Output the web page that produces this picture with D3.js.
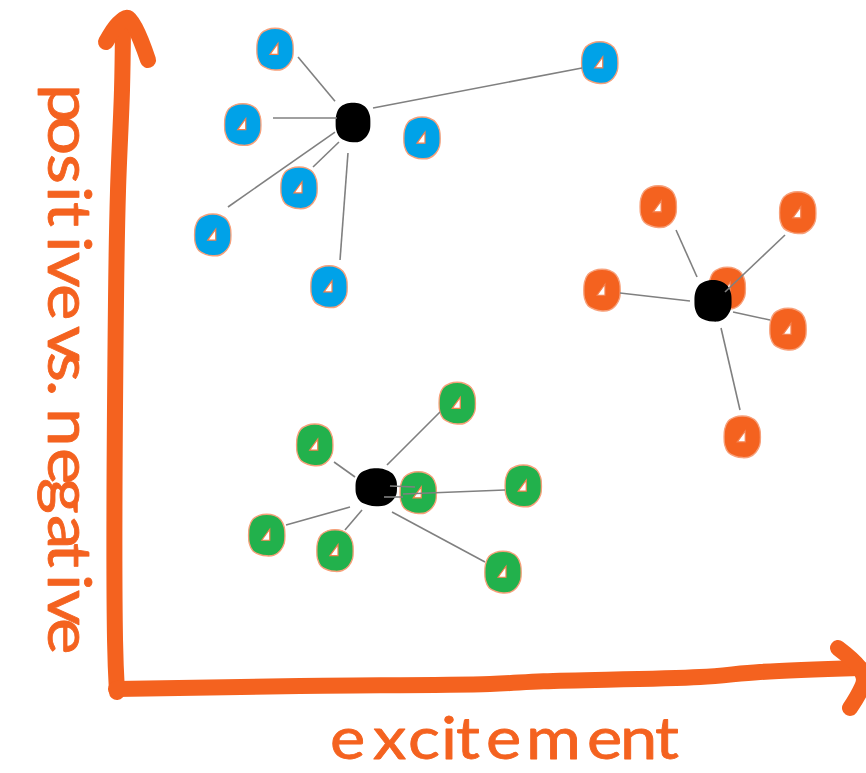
<!DOCTYPE html>
<html>
<head>
<meta charset="utf-8">
<script src="https://cdn.jsdelivr.net/npm/d3@7"></script>
<style>
  html, body { margin: 0; padding: 0; background: #fff; }
  svg { display: block; }
</style>
</head>
<body>
<svg id="chart"></svg>
<script>
// values, x = excitement, y = positive vs. negative (0-100)
const blueCenter = [31.6, 84.0];
const bluePoints = [[21.2, 94.9], [64.5, 92.9], [16.9, 83.7], [40.8, 81.7], [24.4, 74.3], [12.9, 67.3], [28.4, 59.6]];
const blueLinks = [
  [24.27, 93.76, 29.2, 87.2], [20.93, 84.7, 29.47, 84.7], [34.27, 86.18, 62.13, 92.12],
  [29.2, 82.6, 14.93, 71.47], [29.73, 81.13, 26.27, 77.41], [30.93, 79.5, 29.87, 63.6]
];

const orangeCenter = [79.6, 57.5];
const orangePoints = [[72.3, 71.5], [90.9, 70.6], [64.8, 59.1], [81.5, 59.4], [89.6, 53.3], [83.5, 37.3]];
const orangeLinks = [
  [74.67, 68.05, 77.47, 61.07], [67.2, 58.69, 76.53, 57.5], [89.2, 67.31, 81.2, 58.84],
  [82.27, 55.87, 87.2, 54.68], [80.67, 53.49, 83.2, 41.31]
];

const greenCenter = [34.7, 29.8];
const greenPoints = [[45.5, 42.3], [26.5, 36.1], [54.3, 30.0], [40.3, 29.0], [20.1, 22.7], [29.2, 20.4], [51.6, 17.2]];
const greenLinks = [
  [43.2, 41.01, 36.13, 33.14], [29.07, 33.58, 31.87, 31.35], [51.87, 29.42, 38.27, 28.83],
  [39.87, 29.87, 36.53, 30.01], [38.27, 28.38, 35.73, 28.38], [22.67, 24.22, 31.2, 26.89],
  [32.8, 26.45, 30.53, 23.48], [36.8, 26.15, 49.2, 18.72]
];

const xLabel = 'excitement';
const yLabel = 'positive vs. negative';

// where each handwritten letter starts along its axis, in pixels
const xLabelStarts = [330, 373, 408, 441, 456, 486, 526, 587, 620, 655];
const yLabelStarts = [84, 116, 154, 186, 202, 236, 252, 284, 322, 326, 352, 380, 398, 408, 448, 478, 515, 543, 574, 590, 618];

const width = 866;
const height = 773;
const orange = '#f4621f';
const letterStretch = 1.15;

const x = d3.scaleLinear().domain([0, 100]).range([116, 866]);
const y = d3.scaleLinear().domain([0, 100]).range([688, 15]);

const svg = d3.select('#chart').attr('width', width).attr('height', height);

// axes are wobbly strokes, drawn by hand in the original
const line = d3.line().x(d => x(d[0])).y(d => y(d[1])).curve(d3.curveCatmullRom);
const yAxisPath = [[0.13, -0.6], [-0.13, 7.13], [0, 57.65], [0.27, 74], [0.8, 88.86], [0.93, 97.77]];
const yArrow = [[-1.33, 95.99], [0.27, 98.66], [1.6, 99.55], [4.27, 93.31]];
const xAxisPath = [[0, -0.15], [24.53, 0.3], [49.87, 0.6], [57, 1.0], [77.87, 1.63], [85.87, 2.38], [99.2, 2.97]];
const xArrow = [[96.27, 5.94], [98.93, 3.27], [99.73, 1.19], [97.87, -2.97]];
[yAxisPath, yArrow, xAxisPath, xArrow].forEach(p => {
  svg.append('path')
    .attr('d', line(p))
    .attr('fill', 'none')
    .attr('stroke', orange)
    .attr('stroke-width', 16)
    .attr('stroke-linecap', 'round')
    .attr('stroke-linejoin', 'round');
});

// outline of a blob, radius factor per step round the circle
const blobShape = [0.98, 1.0, 1.02, 0.98, 0.94, 0.98, 1.0, 1.0, 0.96, 0.97, 1.02, 0.98, 0.94, 0.98, 1.03, 1.0];
const blob = d3.lineRadial()
  .angle((d, i) => i / blobShape.length * 2 * Math.PI)
  .radius(d => d)
  .curve(d3.curveCatmullRomClosed);

function drawCluster(center, points, links, fill, centerScale) {
  const g = svg.append('g');

  points.forEach(p => {
    const node = g.append('g').attr('transform', `translate(${x(p[0])},${y(p[1])})`);
    node.append('path')
      .attr('d', blob(blobShape.map(r => r * 21.5)))
      .attr('transform', 'scale(0.9,1)')
      .attr('fill', fill)
      .attr('stroke', '#f7a07a')
      .attr('stroke-width', 1.5);
    node.append('path')
      .attr('d', 'M-5,5L3,-6L3,5Z')
      .attr('fill', '#fff')
      .attr('stroke', '#f4804e')
      .attr('stroke-width', 1.2);
  });

  g.append('path')
    .attr('transform', `translate(${x(center[0])},${y(center[1])}) scale(${centerScale[0]},${centerScale[1]})`)
    .attr('d', blob(blobShape.map(r => r * 21)))
    .attr('fill', '#000');

  // lines were drawn by hand, they stop short of the dots and some run over them
  g.selectAll('line')
    .data(links)
    .enter()
    .append('line')
    .attr('x1', d => x(d[0]))
    .attr('y1', d => y(d[1]))
    .attr('x2', d => x(d[2]))
    .attr('y2', d => y(d[3]))
    .attr('stroke', '#808080')
    .attr('stroke-width', 1.6);
}

drawCluster(blueCenter, bluePoints, blueLinks, '#00a2e8', [0.88, 0.97]);
drawCluster(orangeCenter, orangePoints, orangeLinks, '#f4621f', [0.94, 1.02]);
drawCluster(greenCenter, greenPoints, greenLinks, '#22b14c', [1.05, 0.93]);

svg.append('text')
  .attr('transform', `translate(0,759) scale(${letterStretch},1)`)
  .attr('x', xLabelStarts.map(v => v / letterStretch).join(' '))
  .attr('y', 0)
  .attr('font-family', 'Lato, sans-serif')
  .attr('font-size', 58)
  .attr('fill', orange)
  .attr('stroke', orange)
  .attr('stroke-width', 0.8)
  .attr('stroke-linejoin', 'round')
  .text(xLabel);

svg.append('text')
  .attr('transform', `translate(48,0) rotate(90) scale(${letterStretch},1)`)
  .attr('x', yLabelStarts.map(v => v / letterStretch).join(' '))
  .attr('y', 0)
  .attr('font-family', 'Lato, sans-serif')
  .attr('font-size', 60)
  .attr('fill', orange)
  .attr('stroke', orange)
  .attr('stroke-width', 0.8)
  .attr('stroke-linejoin', 'round')
  .text(yLabel);
</script>
</body>
</html>
